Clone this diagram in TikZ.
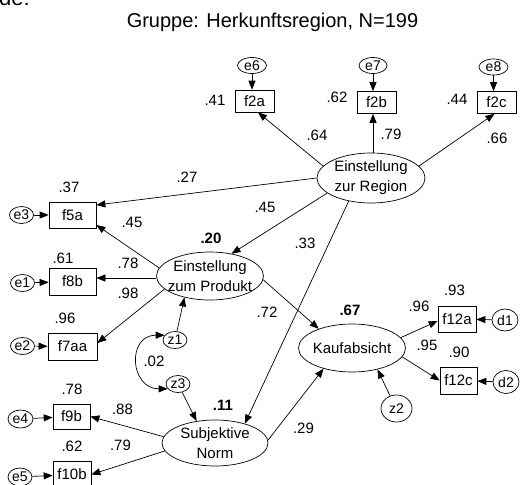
\documentclass[tikz,border=0pt]{standalone}
\usepackage{fontspec}
\setmainfont{Liberation Sans}
\usetikzlibrary{shapes.geometric,arrows.meta,calc}
\begin{document}
\begin{tikzpicture}[x=1pt,y=-1pt,
  every node/.style={font=\fontsize{15}{20}\selectfont, inner sep=0pt},
  obs/.style={draw, rectangle, line width=0.7pt, minimum width=47pt, minimum height=27pt},
  lat/.style={draw, ellipse, line width=0.7pt, minimum width=107pt, minimum height=48pt},
  err/.style={draw, ellipse, line width=0.7pt, font=\fontsize{14}{16}\selectfont, minimum width=24pt, minimum height=17pt},
  lattext/.style={align=center},
  coef/.style={},
  coefb/.style={font=\fontsize{15}{18}\selectfont\bfseries},
  arr/.style={-{Triangle[length=9pt,width=7pt]}, line width=0.7pt},
  arrtwo/.style={{Triangle[length=9pt,width=7pt]}-{Triangle[length=9pt,width=7pt]}, line width=0.7pt}
]
\useasboundingbox (0,0) rectangle (520,485);

% texts at top
\node[anchor=base west, font=\fontsize{22}{24}\selectfont] (de) at (-1,5) {de:};
\node[anchor=base, font=\fontsize{20}{24}\selectfont] (title) at (272.5,27) {Gruppe: Herkunftsregion, N=199};

% latent variables
\node[lat, minimum width=108pt, minimum height=50pt] (reg) at (371,178) {};
\node[lattext] (regt) at (371,178) {Einstellung\\zur Region};
\node[lat] (prod) at (210,276) {};
\node[lattext] (prodt) at (210,276) {Einstellung\\zum Produkt};
\node[lat] (kauf) at (352,348) {};
\node[lattext] (kauft) at (352,348) {Kaufabsicht};
\node[lat, minimum width=106pt, minimum height=46pt] (subj) at (215,443) {};
\node[lattext] (subjt) at (215,443) {Subjektive\\Norm};

% observed variables
\node[obs, minimum width=39pt, minimum height=22pt] (f2a) at (254.5,101) {f2a};
\node[obs, minimum width=39pt, minimum height=22pt] (f2b) at (376.5,102.5) {f2b};
\node[obs, minimum width=39pt, minimum height=22pt] (f2c) at (496.5,102.5) {f2c};
\node[obs, minimum height=26pt] (f5a) at (72.5,215) {f5a};
\node[obs] (f8b) at (72.5,281.5) {f8b};
\node[obs, minimum width=49pt] (f7aa) at (72.5,346.5) {f7aa};
\node[obs, minimum width=37pt, minimum height=25pt] (f9b) at (71.5,416.5) {f9b};
\node[obs, minimum width=38pt, minimum height=26pt] (f10b) at (72,474.5) {f10b};
\node[obs, minimum width=38pt, minimum height=26pt] (f12a) at (457,319) {f12a};
\node[obs, minimum width=37pt] (f12c) at (458.5,380.5) {f12c};

% error terms
\node[err, minimum width=29pt, minimum height=16pt] (e6) at (252,65.5) {e6};
\node[err, minimum width=28pt, minimum height=16pt] (e7) at (373,65.5) {e7};
\node[err, minimum width=29pt, minimum height=16pt] (e8) at (493.5,67) {e8};
\node[err] (e3) at (21.5,215) {e3};
\node[err] (e1) at (22.5,283) {e1};
\node[err] (e2) at (22.5,346) {e2};
\node[err, minimum width=25pt, minimum height=18pt] (e4) at (20.5,419) {e4};
\node[err, minimum width=24pt, minimum height=18pt] (e5) at (20,477) {e5};
\node[err] (z1) at (175,340) {z1};
\node[err] (z3) at (178,384) {z3};
\node[err, minimum width=26pt, minimum height=22pt] (d1) at (505,320) {d1};
\node[err, minimum width=26pt, minimum height=23pt] (d2) at (506,382) {d2};
\node[err, minimum width=31pt, minimum height=27pt] (z2) at (396.5,408.5) {z2};

% error arrows
\draw[arr] (e6) -- (e6 |- f2a.north);
\draw[arr] (e7) -- (e7 |- f2b.north);
\draw[arr] (e8) -- (e8 |- f2c.north);
\draw[arr] (e3) -- (f5a);
\draw[arr] (e1) -- (f8b);
\draw[arr] (e2) -- (f7aa);
\draw[arr] (e4) -- (f9b);
\draw[arr] (e5) -- (f10b);
\draw[arr] (d1) -- (f12a);
\draw[arr] (d2) -- (f12c);

% structural paths
\draw[arr] (reg.166.6) -- ([xshift=3.5pt]f2a.south);
\draw[arr] ([xshift=2pt]reg.north) -- ([xshift=-3.5pt]f2b.south);
\draw[arr] (reg.14.9) -- ([xshift=-2pt]f2c.south);
\draw[arr] (reg.west) -- ([yshift=10pt]f5a.east);
\draw[arr] (reg.199.7) -- (prod.46.3);
\draw[arr] (reg.226.2) -- (subj.33.3);
\draw[arr] (prod.171.3) -- ([yshift=-10pt]f5a.east);
\draw[arr] ([yshift=-2pt]prod.west) -- ([yshift=3.5pt]f8b.east);
\draw[arr] (prod.196.6) -- ([yshift=3.5pt]f7aa.east);
\draw[arr] (prod.-4.2) -- (kauf.150.3);
\draw[arr] (z1) -- (prod.220);
\draw[arr] (z3) -- (subj.130.6);
\draw[arrtwo] (z1.155) .. controls +(-38,0) and +(-38,0) .. (z3.205);
\draw[arr] (subj.173.5) -- (f9b.east);
\draw[arr] (subj.189.8) -- (f10b.east);
\draw[arr] (subj.3.3) -- (kauf.216);
\draw[arr] (kauf.12.4) -- ([yshift=-2pt]f12a.west);
\draw[arr] (kauf.-10) -- (f12c.west);
\draw[arr] (z2.117) -- (kauf.-40.2);

% coefficients
\node[coef] (c41) at (215,100) {.41};
\node[coef] (c62a) at (337,97) {.62};
\node[coef] (c44) at (457,99) {.44};
\node[coef] (c64) at (317,135) {.64};
\node[coef] (c79a) at (391,134) {.79};
\node[coef] (c66) at (497,138) {.66};
\node[coef] (c27) at (187,177) {.27};
\node[coef] (c37) at (69,187) {.37};
\node[coef] (c45a) at (132,222) {.45};
\node[coefb] (c20) at (211,238) {.20};
\node[coef] (c61) at (63,258) {.61};
\node[coef] (c78a) at (128,263) {.78};
\node[coef] (c98) at (128,293) {.98};
\node[coef] (c96a) at (65,318) {.96};
\node[coef] (c45b) at (265,207) {.45};
\node[coef] (c33) at (305,243) {.33};
\node[coef] (c72) at (267,312) {.72};
\node[coefb] (c67) at (350,310) {.67};
\node[coef] (c96b) at (419,306) {.96};
\node[coef] (c93) at (454.5,290) {.93};
\node[coef] (c95) at (427,345) {.95};
\node[coef] (c90) at (459,352) {.90};
\node[coef] (c02) at (154,361) {.02};
\node[coefb] (c11) at (223,405) {.11};
\node[coef] (c78b) at (72,389) {.78};
\node[coef] (c88) at (122.5,409) {.88};
\node[coef] (c62b) at (72,446) {.62};
\node[coef] (c79b) at (120.5,445) {.79};
\node[coef] (c29) at (303.5,428) {.29};
\end{tikzpicture}
\end{document}
